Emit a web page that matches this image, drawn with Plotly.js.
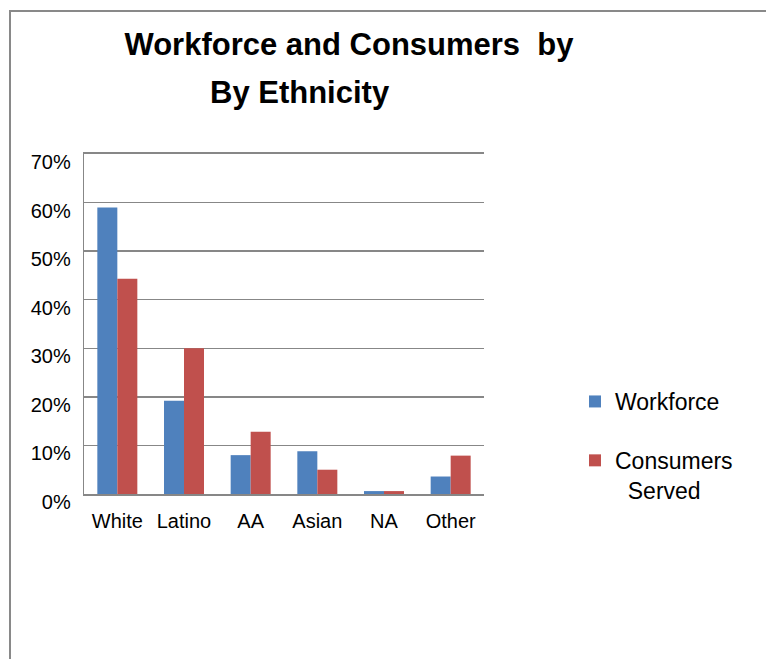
<!DOCTYPE html>
<html>
<head>
<meta charset="utf-8">
<script src="https://cdn.plot.ly/plotly-3.0.1.min.js"></script>
<style>
  html, body { margin: 0; padding: 0; background: #fff; }
  #wrap { position: relative; width: 766px; height: 659px; overflow: hidden; }
  #frame { position: absolute; left: 9px; top: 10px; width: 800px; height: 700px;
           border-left: 2px solid #898989; border-top: 2px solid #898989; pointer-events: none; }
  #chart { position: absolute; left: 0; top: 0; width: 766px; height: 659px; }
</style>
</head>
<body>
<div id="wrap">
  <div id="chart"></div>
  <div id="frame"></div>
</div>
<script>
// Data (percent of total)
const categories = ["White", "Latino", "AA", "Asian", "NA", "Other"];
const workforce = [59.0, 19.2, 8.0, 8.8, 0.6, 3.6];
const consumersServed = [44.3, 30.0, 12.8, 5.0, 0.6, 7.9];
const yTickValues = [0, 10, 20, 30, 40, 50, 60, 70];
const yTickLabels = ["0%", "10%", "20%", "30%", "40%", "50%", "60%", "70%"];
const seriesNames = ["Workforce", "Consumers<br>\u00A0\u00A0Served"];
const titleLine1 = "Workforce and Consumers\u00A0 by";
const titleLine2 = "By Ethnicity";

const font = "Liberation Sans, Arial, sans-serif";

const traces = [
  {
    type: "bar", x: categories, y: workforce, name: seriesNames[0],
    marker: { color: "#4F81BD" }, legendgroup: "a", hoverinfo: "x+y"
  },
  {
    type: "bar", x: categories, y: consumersServed, name: seriesNames[1],
    marker: { color: "#C0504D" }, legendgroup: "b", hoverinfo: "x+y"
  }
];

const layout = {
  width: 766, height: 659,
  margin: { l: 84, r: 282, t: 154, b: 165, pad: 0 },
  paper_bgcolor: "rgba(0,0,0,0)", plot_bgcolor: "rgba(0,0,0,0)",
  font: { family: font, color: "#000" },
  barmode: "group", bargap: 0.4, bargroupgap: 0,
  title: {
    text: titleLine1,
    font: { family: font, size: 31, weight: "bold", color: "#000" },
    xref: "container", yref: "container",
    x: 349 / 766, xanchor: "center",
    y: 1 - 44 / 659, yanchor: "middle"
  },
  annotations: [{
    text: titleLine2, showarrow: false,
    xref: "paper", yref: "paper",
    x: (300 - 84) / 400, xanchor: "center",
    y: (494 - 92) / 340, yanchor: "middle",
    font: { family: font, size: 31, weight: "bold", color: "#000" }
  }],
  xaxis: {
    type: "category",
    showgrid: false, zeroline: false,
    showline: true, linecolor: "#878787", linewidth: 1.6, mirror: true,
    ticks: "", tickfont: { family: font, size: 20, color: "#000" },
    ticklabelstandoff: 8,
    fixedrange: true
  },
  yaxis: {
    range: [0, 70], tickvals: yTickValues, ticktext: yTickLabels,
    showgrid: true, gridcolor: "#878787", gridwidth: 1.3,
    zeroline: false,
    showline: true, linecolor: "#878787", linewidth: 1.3,
    ticks: "", tickfont: { family: font, size: 20, color: "#000" },
    ticklabelposition: "outside",
    ticklabelstandoff: 8,
    ticklabelshift: 8,
    fixedrange: true
  },
  showlegend: true,
  legend: {
    x: (575 - 84) / 400, xanchor: "left",
    y: (494 - 380) / 340, yanchor: "top",
    font: { family: font, size: 23, color: "#000" },
    bgcolor: "rgba(0,0,0,0)", borderwidth: 0,
    traceorder: "grouped", tracegroupgap: 26,
    valign: "top"
  }
};

Plotly.newPlot("chart", traces, layout, { displayModeBar: false, staticPlot: true });
</script>
</body>
</html>
